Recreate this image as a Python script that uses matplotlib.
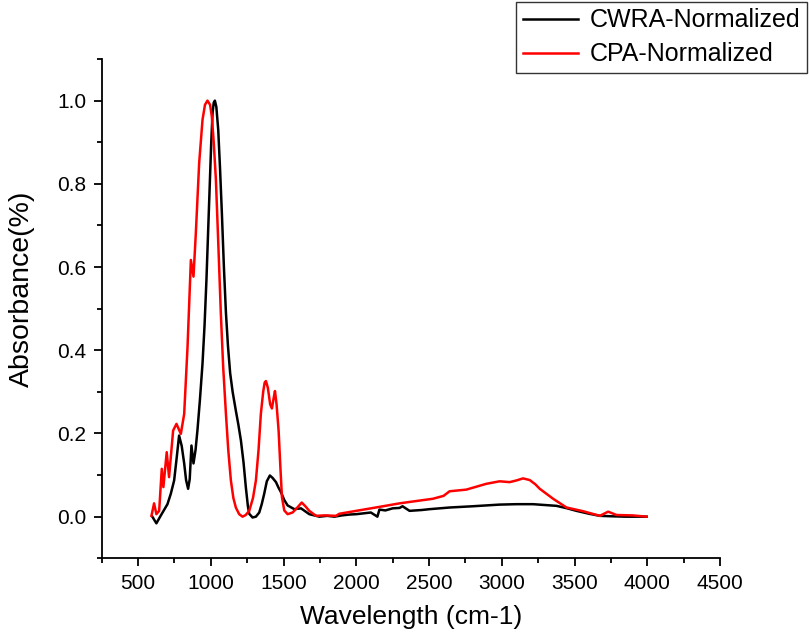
import matplotlib
matplotlib.use("Agg")
import matplotlib.pyplot as plt
from matplotlib.ticker import MultipleLocator, FormatStrFormatter

plt.rcParams['font.family'] = ['Liberation Sans', 'DejaVu Sans']

cwra_x = [598, 626, 660, 702, 725, 748, 765, 782, 800, 817, 830, 844, 855, 867, 881,
          895, 908, 925, 943, 957, 970, 985, 994, 1003, 1012, 1020, 1028, 1038, 1051,
          1063, 1076, 1090, 1104, 1118, 1133, 1150, 1172, 1190, 1207, 1225, 1241,
          1255, 1264, 1287, 1310, 1333, 1350, 1367, 1385, 1406, 1425, 1448, 1465,
          1482, 1505, 1528, 1574, 1620, 1677, 1723, 1746, 1800, 1850, 1900, 1950,
          2000, 2050, 2100, 2145, 2159, 2200, 2250, 2297, 2318, 2366, 2450, 2503,
          2641, 2800, 2985, 3100, 3215, 3376, 3450, 3513, 3600, 3674, 3750, 3850, 3995]
cwra_y = [0.0, -0.016, 0.005, 0.03, 0.055, 0.087, 0.14, 0.195, 0.17, 0.128, 0.088,
          0.067, 0.09, 0.171, 0.128, 0.16, 0.207, 0.28, 0.368, 0.46, 0.569, 0.72, 0.81,
          0.9, 0.97, 0.995, 1.0, 0.985, 0.93, 0.84, 0.73, 0.6, 0.49, 0.41, 0.345, 0.3,
          0.255, 0.22, 0.183, 0.13, 0.07, 0.025, 0.007, -0.002, 0.0, 0.01, 0.03,
          0.055, 0.085, 0.099, 0.093, 0.083, 0.07, 0.059, 0.04, 0.027, 0.018, 0.02,
          0.006, 0.002, 0.0, 0.002, 0.0, 0.003, 0.005, 0.006, 0.008, 0.01, 0.0,
          0.017, 0.015, 0.02, 0.021, 0.025, 0.014, 0.016, 0.018, 0.022, 0.025, 0.029,
          0.03, 0.03, 0.026, 0.02, 0.014, 0.007, 0.002, 0.001, 0.0, 0.0]

cpa_x = [592, 610, 626, 645, 663, 674, 697, 713, 741, 764, 794, 817, 840, 863, 881,
         897, 920, 943, 960, 977, 995, 1007, 1020, 1035, 1050, 1069, 1085, 1104,
         1120, 1138, 1155, 1172, 1195, 1218, 1240, 1264, 1290, 1310, 1328, 1344,
         1360, 1370, 1379, 1392, 1408, 1420, 1432, 1441, 1452, 1466, 1478, 1489,
         1505, 1528, 1562, 1595, 1625, 1650, 1677, 1723, 1780, 1860, 1884, 2000,
         2100, 2200, 2297, 2400, 2526, 2600, 2641, 2756, 2894, 2985, 3054, 3100,
         3146, 3192, 3230, 3261, 3353, 3445, 3560, 3674, 3731, 3789, 3900, 3995]
cpa_y = [0.002, 0.032, 0.006, 0.014, 0.115, 0.071, 0.155, 0.095, 0.207, 0.223, 0.199,
         0.247, 0.408, 0.617, 0.577, 0.681, 0.85, 0.954, 0.99, 1.0, 0.99, 0.962, 0.9,
         0.81, 0.67, 0.488, 0.36, 0.247, 0.16, 0.087, 0.045, 0.022, 0.006, 0.0,
         0.004, 0.014, 0.045, 0.087, 0.16, 0.247, 0.3, 0.322, 0.326, 0.31, 0.27,
         0.26, 0.285, 0.302, 0.27, 0.207, 0.12, 0.047, 0.015, 0.006, 0.01, 0.022,
         0.034, 0.025, 0.014, 0.002, 0.003, 0.002, 0.007, 0.014, 0.02, 0.026, 0.032,
         0.037, 0.043, 0.05, 0.061, 0.065, 0.079, 0.085, 0.083, 0.087, 0.092, 0.088,
         0.078, 0.067, 0.043, 0.022, 0.013, 0.002, 0.012, 0.004, 0.003, 0.0]

fig = plt.figure(figsize=(8.09, 6.4), dpi=100)
ax = fig.add_axes([0.1257, 0.1277, 0.890 - 0.1257, 0.9078 - 0.1277])

ax.plot(cwra_x, cwra_y, color='black', lw=1.8, label='CWRA-Normalized')
ax.plot(cpa_x, cpa_y, color='#ff0000', lw=1.8, label='CPA-Normalized')

ax.set_xlim(250, 4500)
ax.set_ylim(-0.1, 1.1)
ax.set_xticks([500, 1000, 1500, 2000, 2500, 3000, 3500, 4000, 4500])
ax.xaxis.set_minor_locator(MultipleLocator(250))
ax.set_yticks([0.0, 0.2, 0.4, 0.6, 0.8, 1.0])
ax.yaxis.set_minor_locator(MultipleLocator(0.1))
ax.yaxis.set_major_formatter(FormatStrFormatter('%.1f'))

for s in ['top', 'right']:
    ax.spines[s].set_visible(False)
for s in ['left', 'bottom']:
    ax.spines[s].set_linewidth(1.3)

ax.tick_params(axis='both', which='major', direction='out', length=6, width=1.3,
               labelsize=15, pad=5)
ax.tick_params(axis='both', which='minor', direction='out', length=3.5, width=1.3)

ax.set_xlabel('Wavelength (cm-1)', fontsize=19, labelpad=9)
ax.set_ylabel('Absorbance(%)', fontsize=20.5)
ax.yaxis.set_label_coords(-0.108, 0.539)

leg = fig.legend(loc='upper right', bbox_to_anchor=(807 / 809, 638 / 640),
                 fontsize=18, frameon=True, fancybox=False, handlelength=2.2,
                 borderpad=0.25, labelspacing=0.4, handletextpad=0.5,
                 borderaxespad=0)
leg.get_frame().set_edgecolor('black')
leg.get_frame().set_linewidth(1.0)

fig.savefig('out.png', dpi=100)
